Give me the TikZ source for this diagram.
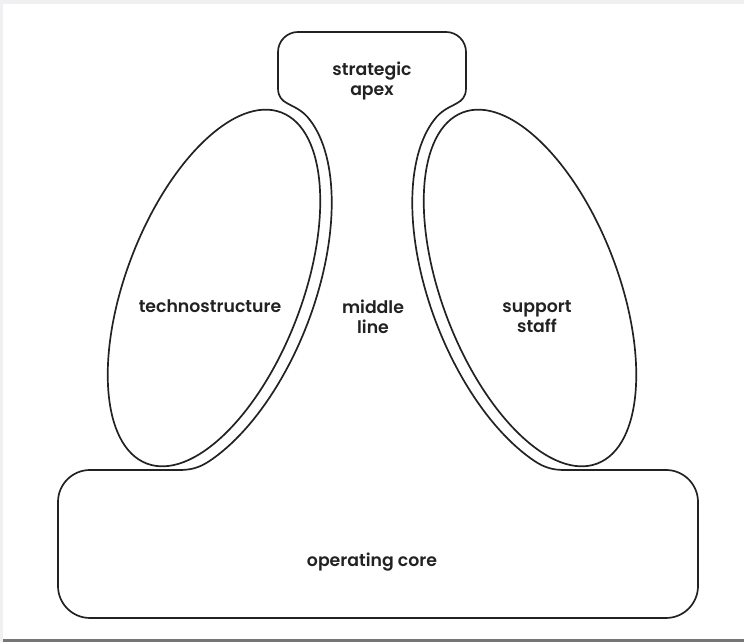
\documentclass[tikz,border=0pt]{standalone}
\usepackage{fontspec}
\setmainfont{Poppins}[UprightFont={* SemiBold}]
\usepackage{tikz}
\usetikzlibrary{calc}
\definecolor{frameGray}{HTML}{EFF0F2}
\definecolor{rimGray}{HTML}{767676}
\definecolor{inkBlack}{HTML}{222222}
\tikzset{
  org/outline/.style={draw=inkBlack, line width=1.2pt, line join=round},
  org/unit/.style={draw=inkBlack, line width=1.2pt},
  org/label/.style={font=\fontsize{12.3}{14.2}\selectfont, text=inkBlack, align=center, inner sep=0pt}
}

\begin{document}
\begin{tikzpicture}[x=0.025cm, y=0.025cm]
  % page frame
  \fill[frameGray] (0,0) rectangle (744,642);
  \fill[white] (3.3,3) rectangle (744,637.5);
  \fill[rimGray] (3.3,0) rectangle (744,3);

  % apex, middle line and operating core share one outline
  \draw[org/outline] (180,172) .. controls (190,172) and (199,174) .. (208.9,180.6)
    -- plot[domain=-145:-15, samples=60, variable=\t] ({214+71.7*cos(\t)-93.4*sin(\t)}, {354+186.7*cos(\t)+35.8*sin(\t)})
    .. controls (294,540) and (278,536) .. (278,554)
    -- (278,590) arc[start angle=180, end angle=90, radius=20]
    -- (446,610) arc[start angle=90, end angle=0, radius=20]
    -- (466,554) .. controls (466,536) and (450,540) .. (436.5,525)
    -- plot[domain=15:145, samples=60, variable=\s] ({530-71.7*cos(\s)-93.4*sin(\s)}, {354+186.7*cos(\s)-35.8*sin(\s)})
    .. controls (545,174) and (554,172) .. (564,172)
    -- (666,172) arc[start angle=90, end angle=0, radius=32]
    -- (698,56) arc[start angle=0, end angle=-90, radius=32]
    -- (90,24) arc[start angle=270, end angle=180, radius=32]
    -- (58,140) arc[start angle=180, end angle=90, radius=32]
    -- cycle;

  % the two staff units
  \draw[org/unit, rotate around={69:(214,354)}] (214,354) ellipse[x radius=188, y radius=88];
  \draw[org/unit, rotate around={111:(530,354)}] (530,354) ellipse[x radius=188, y radius=88];

  \node[org/label] (apex) at (372,561) {strategic\\apex};
  \node[org/label] (techno) at (210,336) {technostructure};
  \node[org/label] (middle) at (373,325) {middle\\line};
  \node[org/label] (support) at (537,325) {support\\staff};
  \node[org/label] (core) at (372,80) {operating core};
\end{tikzpicture}
\end{document}
